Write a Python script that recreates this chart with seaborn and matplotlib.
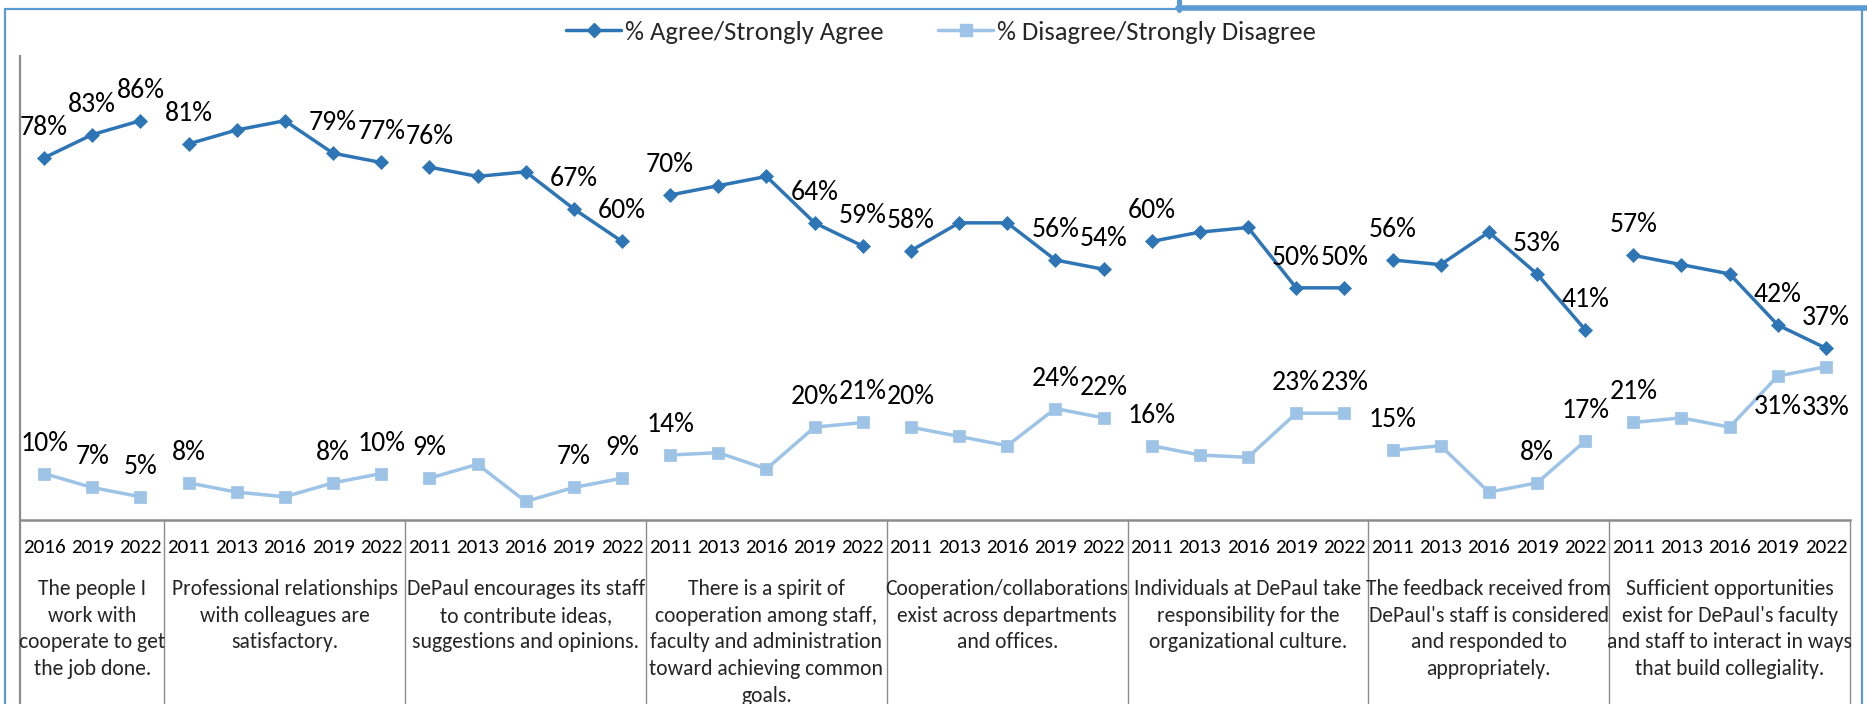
import matplotlib
matplotlib.use("Agg")
import matplotlib.pyplot as plt
from matplotlib.lines import Line2D
import pandas as pd
import seaborn as sns

# ---- survey data -------------------------------------------------------
statements = [
    "The people I\nwork with\ncooperate to get\nthe job done.",
    "Professional relationships\nwith colleagues are\nsatisfactory.",
    "DePaul encourages its staff\nto contribute ideas,\nsuggestions and opinions.",
    "There is a spirit of\ncooperation among staff,\nfaculty and administration\ntoward achieving common\ngoals.",
    "Cooperation/collaborations\nexist across departments\nand offices.",
    "Individuals at DePaul take\nresponsibility for the\norganizational culture.",
    "The feedback received from\nDePaul's staff is considered\nand responded to\nappropriately.",
    "Sufficient opportunities\nexist for DePaul's faculty\nand staff to interact in ways\nthat build collegiality.",
]
years_short = ["2016", "2019", "2022"]
years_long = ["2011", "2013", "2016", "2019", "2022"]
group_years = [years_short] + [years_long] * 7

agree = [
    [78, 83, 86],
    [81, 84, 86, 79, 77],
    [76, 74, 75, 67, 60],
    [70, 72, 74, 64, 59],
    [58, 64, 64, 56, 54],
    [60, 62, 63, 50, 50],
    [56, 55, 62, 53, 41],
    [57, 55, 53, 42, 37],
]
disagree = [
    [10, 7, 5],
    [8, 6, 5, 8, 10],
    [9, 12, 4, 7, 9],
    [14, 14.5, 11, 20, 21],
    [20, 18, 16, 24, 22],
    [16, 14, 13.5, 23, 23],
    [15, 16, 6, 8, 17],
    [21, 22, 20, 31, 33],
]
# which years in each group carry a value label
labeled_short = [0, 1, 2]
labeled_long = [0, 3, 4]

series_names = ["% Agree/Strongly Agree", "% Disagree/Strongly Disagree"]

# ---- long-form table ---------------------------------------------------
rows = []
pos = 0
group_bounds = []
for g, yrs in enumerate(group_years):
    start = pos
    lab = labeled_short if len(yrs) == 3 else labeled_long
    for i, yr in enumerate(yrs):
        rows.append(dict(pos=pos, year=yr, group=g, series=series_names[0],
                         value=agree[g][i], labeled=i in lab, slot=i))
        rows.append(dict(pos=pos, year=yr, group=g, series=series_names[1],
                         value=disagree[g][i], labeled=i in lab, slot=i))
        pos += 1
    group_bounds.append((start, pos - 1))
df = pd.DataFrame(rows)
n_pos = pos

# ---- styling -----------------------------------------------------------
sns.set_style("white")
plt.rcParams["font.family"] = ["Carlito", "DejaVu Sans"]

W, H = 1867, 704
fig = plt.figure(figsize=(W / 100, H / 100), dpi=100)
ax = fig.add_axes([20 / W, 1 - 520 / H, 1830 / W, 464.3 / H])

dark = "#2E75B6"
light = "#9DC3E6"
grid_gray = "#8C8C8C"

styles = {
    series_names[0]: dict(color=dark, marker="D", markersize=6.8),
    series_names[1]: dict(color=light, marker="s", markersize=9.2),
}

for name, st in styles.items():
    sub = df[df["series"] == name]
    sns.lineplot(data=sub, x="pos", y="value", units="group", estimator=None,
                 color=st["color"], marker=st["marker"],
                 markersize=st["markersize"], markeredgecolor=st["color"],
                 markeredgewidth=0.5, linewidth=2.5, legend=False, ax=ax,
                 sort=True)

ax.set_xlim(-0.5, n_pos - 0.5)
ax.set_ylim(0, 100)
ax.set_xlabel("")
ax.set_ylabel("")
ax.set_yticks([])

# year tick labels
ax.set_xticks(range(n_pos))
ax.set_xticklabels(df.drop_duplicates("pos")["year"].tolist())
ax.tick_params(axis="x", length=0, pad=13.5, labelsize=15.2, labelcolor="black")

# axis lines
for s in ["top", "right"]:
    ax.spines[s].set_visible(False)
ax.spines["left"].set_color(grid_gray)
ax.spines["left"].set_linewidth(1.6)
ax.spines["bottom"].set_color(grid_gray)
ax.spines["bottom"].set_linewidth(1.8)

# category table: vertical separators below the axis
for b in [-0.5] + [hi + 0.5 for (_, hi) in group_bounds]:
    lw = 1.6 if b == -0.5 else 1.0
    ax.axvline(b, ymin=-0.45, ymax=0, color=grid_gray, lw=lw, clip_on=False)

# statement text per group
for (lo, hi), text in zip(group_bounds, statements):
    ax.annotate(text, xy=((lo + hi) / 2, 0), xycoords=("data", "axes fraction"),
                xytext=(0, -59), textcoords="offset pixels",
                ha="center", va="top", fontsize=15.6, linespacing=1.42,
                annotation_clip=False)

# value labels
below = {(7, 3): -38.0, (7, 4): -48.0}
for _, r in df[df["labeled"]].iterrows():
    key = (r["group"], r["slot"])
    dy = 23.0
    if r["series"] == series_names[1] and key in below:
        dy = below[key]
    ax.annotate(f"{r['value']:.0f}%", xy=(r["pos"], r["value"]),
                xytext=(0, dy), textcoords="offset pixels",
                ha="center", va="baseline", fontsize=20, color="black")

# legend
handles = [
    Line2D([], [], color=dark, marker="D", markersize=6.8, lw=2.5,
           markeredgecolor=dark),
    Line2D([], [], color=light, marker="s", markersize=9.2, lw=2.5,
           markeredgecolor=light),
]
fig.legend(handles, series_names, loc="center", bbox_to_anchor=(941 / W, 1 - 32 / H),
           ncol=2, frameon=False, fontsize=19.2, handlelength=2.05,
           handletextpad=0.15, columnspacing=2.05)

# chart border
frame = "#5B9BD5"
def fx(x):
    return x / W
def fy(y):
    return 1 - y / H

fig.add_artist(Line2D([fx(5), fx(5)], [fy(8.5), fy(720)], color=frame, lw=1.6))
fig.add_artist(Line2D([fx(5), fx(1178)], [fy(8.5), fy(8.5)], color=frame, lw=1.6))
fig.add_artist(Line2D([fx(1862), fx(1862)], [fy(8), fy(720)], color=frame, lw=1.6))
fig.add_artist(Line2D([fx(1178), fx(1870)], [fy(8), fy(8)], color=frame, lw=4.0))
fig.add_artist(Line2D([fx(1179), fx(1179)], [fy(-2), fy(10)], color=frame, lw=3.6))

fig.savefig("out.png", dpi=100)
